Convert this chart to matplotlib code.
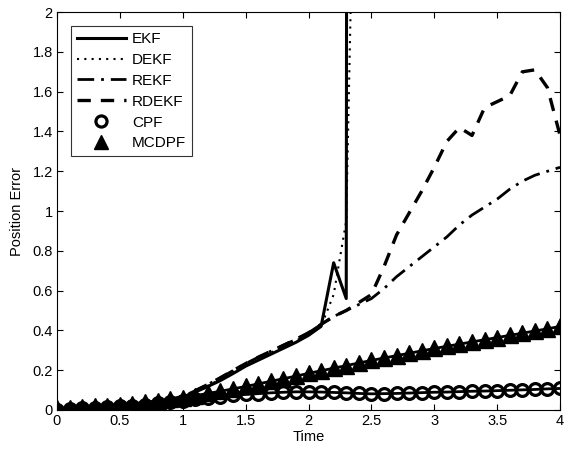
import numpy as np
import matplotlib
matplotlib.use("Agg")
import matplotlib.pyplot as plt
from matplotlib.lines import Line2D

plt.rcParams['font.family'] = ['Liberation Sans', 'DejaVu Sans']

# time grid (0.1 step)
t = np.round(np.arange(0, 4.01, 0.1), 1)

# EKF diverges after t=2.3
t_ekf = t[:25]
ekf = [0.0, 0.004, 0.008, 0.012, 0.017, 0.022, 0.028, 0.035, 0.043, 0.052, 0.065,
       0.09, 0.118, 0.148, 0.183, 0.22, 0.25, 0.28, 0.31, 0.34, 0.375,
       0.42, 0.74, 0.56, 60.0]

t_dekf = t[:25]
dekf = [0.0, 0.004, 0.008, 0.012, 0.017, 0.022, 0.028, 0.035, 0.043, 0.052, 0.065,
        0.092, 0.122, 0.155, 0.19, 0.226, 0.257, 0.288, 0.318, 0.348, 0.382,
        0.42, 0.58, 0.95, 4.0]

rekf = [0.0, 0.004, 0.008, 0.012, 0.017, 0.022, 0.028, 0.035, 0.043, 0.052, 0.068,
        0.097, 0.128, 0.162, 0.198, 0.233, 0.265, 0.295, 0.325, 0.355, 0.388,
        0.43, 0.47, 0.50, 0.53, 0.56, 0.61, 0.67, 0.72, 0.77, 0.82,
        0.87, 0.93, 0.98, 1.02, 1.06, 1.11, 1.15, 1.18, 1.20, 1.22]

rdekf = [0.0, 0.004, 0.008, 0.012, 0.017, 0.022, 0.028, 0.035, 0.043, 0.052, 0.068,
         0.097, 0.128, 0.162, 0.198, 0.233, 0.265, 0.295, 0.325, 0.355, 0.388,
         0.43, 0.47, 0.50, 0.54, 0.58, 0.72, 0.88, 0.99, 1.10, 1.22,
         1.35, 1.42, 1.38, 1.52, 1.55, 1.58, 1.70, 1.71, 1.62, 1.38]

cpf = [0.0, 0.004, 0.008, 0.011, 0.014, 0.018, 0.022, 0.027, 0.033, 0.04, 0.047,
       0.054, 0.061, 0.067, 0.073, 0.078, 0.082, 0.086, 0.089, 0.091, 0.091,
       0.09, 0.088, 0.086, 0.083, 0.081, 0.082, 0.083, 0.085, 0.087, 0.089,
       0.09, 0.092, 0.094, 0.095, 0.097, 0.099, 0.101, 0.103, 0.106, 0.108]

mcdpf = [0.008, 0.011, 0.014, 0.018, 0.022, 0.027, 0.032, 0.038, 0.045, 0.053, 0.062,
         0.072, 0.083, 0.094, 0.106, 0.118, 0.131, 0.144, 0.157, 0.17, 0.184,
         0.197, 0.21, 0.223, 0.236, 0.249, 0.261, 0.273, 0.285, 0.297, 0.309,
         0.32, 0.331, 0.342, 0.353, 0.364, 0.375, 0.386, 0.397, 0.408, 0.42]

fig = plt.figure(figsize=(5.64, 4.5), dpi=100)
ax = fig.add_axes([0.101, 0.089, 0.892, 0.884])

ax.plot(t_ekf, ekf, color='k', lw=2.2, label='EKF')
ax.plot(t_dekf, dekf, color='k', lw=1.5, ls=(0, (1, 2.5)), label='DEKF')
ax.plot(t, rekf, color='k', lw=2.0, ls=(0, (6, 2.5, 1, 2.5)), label='REKF')
ax.plot(t, rdekf, color='k', lw=2.4, ls=(0, (4, 3)), label='RDEKF')
ax.plot(t, cpf, color='k', lw=2.0, marker='o', ms=8.5, mfc='none', mew=2.3, label='CPF')
ax.plot(t, mcdpf, color='k', lw=2.0, marker='^', ms=11, mfc='k', label='MCDPF')

ax.set_xlim(0, 4)
ax.set_ylim(0, 2)
ax.set_xticks([0, 0.5, 1, 1.5, 2, 2.5, 3, 3.5, 4])
ax.set_xticklabels(['0', '0.5', '1', '1.5', '2', '2.5', '3', '3.5', '4'])
ax.set_yticks(np.round(np.arange(0, 2.01, 0.2), 1))
ax.set_yticklabels(['0', '0.2', '0.4', '0.6', '0.8', '1', '1.2', '1.4', '1.6', '1.8', '2'])
ax.tick_params(direction='in', top=True, right=True, labelsize=10.5, length=4, pad=3)
for s in ax.spines.values():
    s.set_linewidth(0.8)
ax.set_xlabel('Time', fontsize=10.5, labelpad=1)
ax.set_ylabel('Position Error', fontsize=10.5, labelpad=6)

# legend: markers only for CPF/MCDPF
handles, labels = ax.get_legend_handles_labels()
handles[4] = Line2D([], [], color='k', ls='none', marker='o', ms=8, mfc='none', mew=2.3)
handles[5] = Line2D([], [], color='k', ls='none', marker='^', ms=10, mfc='k')
leg = ax.legend(handles, labels, loc='upper left', fontsize=11, frameon=True,
                fancybox=False, edgecolor='k', handlelength=3.2,
                borderaxespad=0.9, labelspacing=0.45, handletextpad=0.4)
leg.get_frame().set_linewidth(0.8)

fig.savefig('out.png', dpi=100)
